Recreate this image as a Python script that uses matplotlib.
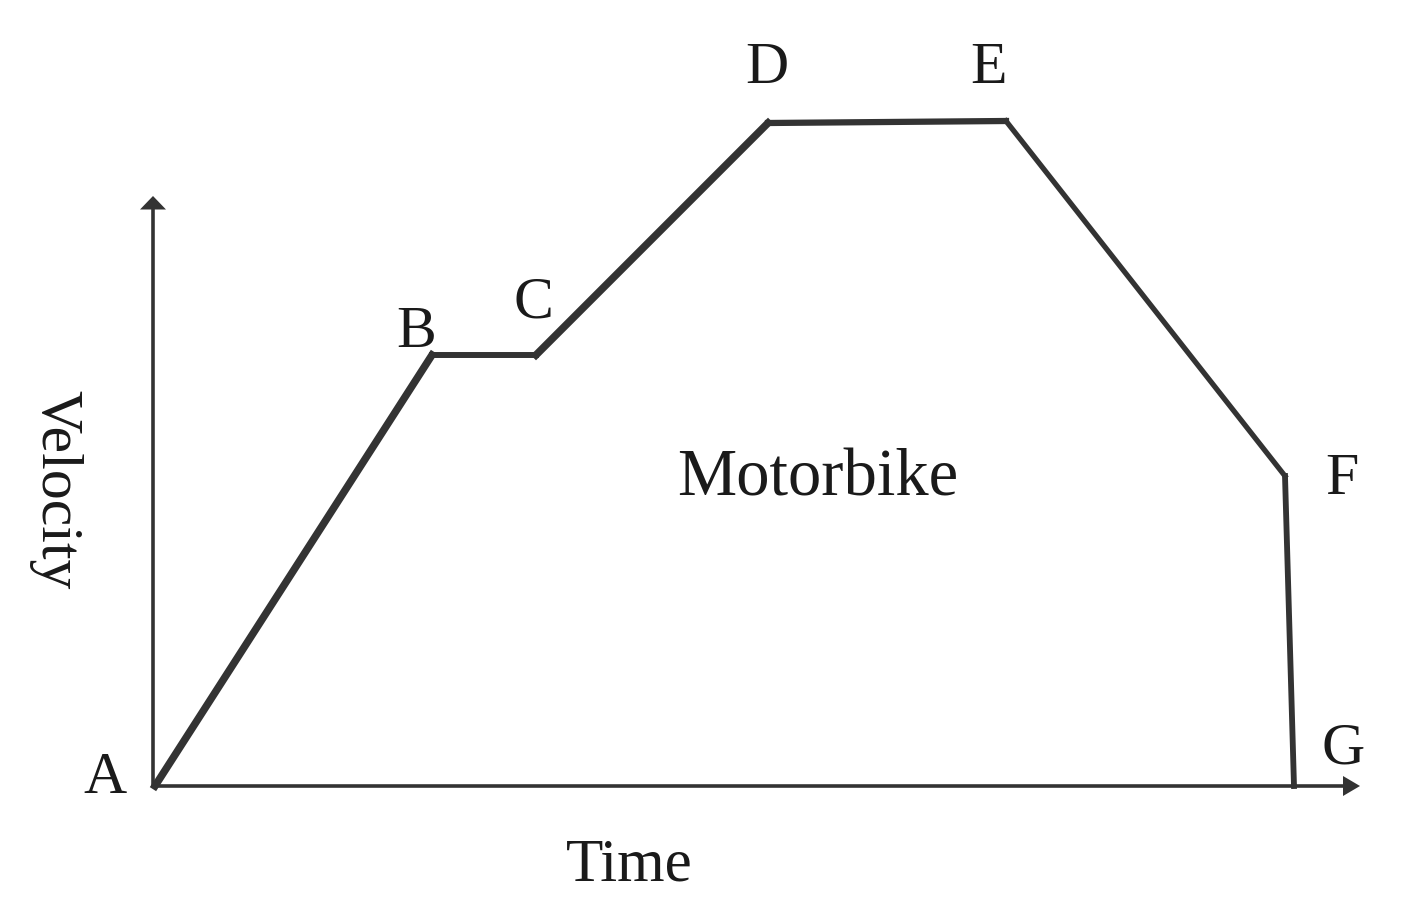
import matplotlib
matplotlib.use('Agg')
import matplotlib.pyplot as plt

# motion points A..G (time, velocity), arbitrary units
points = ['A', 'B', 'C', 'D', 'E', 'F', 'G']
times = [0.2, 27.9, 38.3, 61.5, 85.3, 113.2, 114.1]
velocity = [0.0, 43.1, 43.1, 66.3, 66.5, 31.0, 0.0]
title = 'Motorbike'
xlabel = 'Time'
ylabel = 'Velocity'

# extent of the drawn axes (arrow tips)
t_max = 120.7
v_max = 59.0

LINE = '#333333'
TEXT = '#1a1a1a'
FONT = ['Liberation Serif', 'DejaVu Serif']
FS = 43

seg_lw = [5.4, 4.3, 5.4, 4.5, 3.8, 4.2]
# label offsets in pixels from each point (text baseline, centred)
label_off = [(-50, -7), (-16, 8), (-3, 37), (-1, 40), (-17, 38), (57, -18), (49, 23)]

fig = plt.figure(figsize=(14.06, 9.22), dpi=100)
ax = fig.add_axes([0, 0, 1, 1])
ax.set_xlim(-15.3, 125.3)
ax.set_ylim(-13.6, 78.6)
ax.axis('off')

# axes with arrowheads
ax.plot([0, 0], [0, v_max - 1.2], color=LINE, lw=2.6, solid_capstyle='butt')
ax.plot([0, t_max - 1.5], [0, 0], color=LINE, lw=2.6, solid_capstyle='butt')
ax.fill([-1.3, 1.3, 0], [v_max - 1.35, v_max - 1.35, v_max], color=LINE, lw=0)
ax.fill([t_max - 1.7, t_max - 1.7, t_max], [-1.0, 1.0, 0], color=LINE, lw=0)

# velocity-time curve, segment by segment
for i, lw in enumerate(seg_lw):
    ax.plot(times[i:i + 2], velocity[i:i + 2], color=LINE, lw=lw,
            solid_capstyle='projecting', solid_joinstyle='miter')

for lab, t, v, (dx, dy) in zip(points, times, velocity, label_off):
    ax.annotate(lab, (t, v), xytext=(dx, dy), textcoords='offset pixels',
                ha='center', va='baseline', fontsize=FS, family=FONT, color=TEXT)

ax.text(66.5, 29.0, title, ha='center', va='baseline', fontsize=48, family=FONT, color=TEXT)
ax.text(47.6, -9.4, xlabel, ha='center', va='baseline', fontsize=44, family=FONT, color=TEXT)
ax.text(-9.8, 29.6, ylabel, ha='center', va='center', rotation=-90, fontsize=FS,
        family=FONT, color=TEXT)

fig.savefig('out.png', dpi=100)
